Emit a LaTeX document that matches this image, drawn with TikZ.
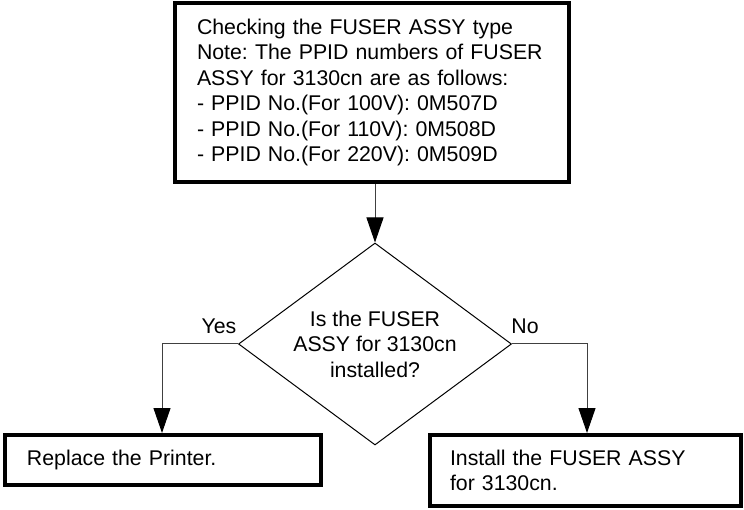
\documentclass[tikz,border=0pt]{standalone}
\usepackage{fontspec}
\setmainfont{Liberation Sans}
\usetikzlibrary{shapes.geometric,arrows.meta}
\frenchspacing
\begin{document}
\begin{tikzpicture}[x=1pt,y=-1pt,
  txt/.style={font=\fontsize{21.3}{25.5}\selectfont},
  box/.style={txt, draw, line width=4pt, inner sep=0pt, align=left},
  decision/.style={txt, draw, diamond, aspect=1.35, line width=1pt, inner sep=0pt, align=center},
  conn/.style={draw=black!75, line width=1pt, -{Triangle[length=25pt,width=17pt,black]}},
  lbl/.style={txt, inner sep=0pt}]
\useasboundingbox (0,0) rectangle (744,510);

\node[box, minimum width=394pt, minimum height=179pt, text width=350pt] (check) at (372,92.5)
  {Checking the FUSER ASSY type\\
   Note: The PPID numbers of FUSER\\
   ASSY for 3130cn are as follows:\\
   - PPID No.(For 100V): 0M507D\\
   - PPID No.(For 110V): 0M508D\\
   - PPID No.(For 220V): 0M509D};

\node[decision, minimum width=273pt, minimum height=202pt] (dec) at (375,344)
  {Is the FUSER\\ASSY for 3130cn\\installed?};

\node[box, minimum width=316pt, minimum height=50pt, text width=272pt] (replace) at (163,460)
  {Replace the Printer.};

\node[box, minimum width=311pt, minimum height=71pt, text width=271pt] (install) at (585.5,470.5)
  {Install the FUSER ASSY\\for 3130cn.};

\node[lbl] (yes) at (219,326) {Yes};
\node[lbl] (no) at (525,326) {No};

\coordinate (ycorner) at (162,344);
\coordinate (ncorner) at (587,344);

\draw[conn] (check.south -| dec.north) -- (dec.north);
\draw[conn] (dec.west) -- (ycorner) -- (ycorner |- replace.north);
\draw[conn] (dec.east) -- (ncorner) -- (ncorner |- install.north);
\end{tikzpicture}
\end{document}
